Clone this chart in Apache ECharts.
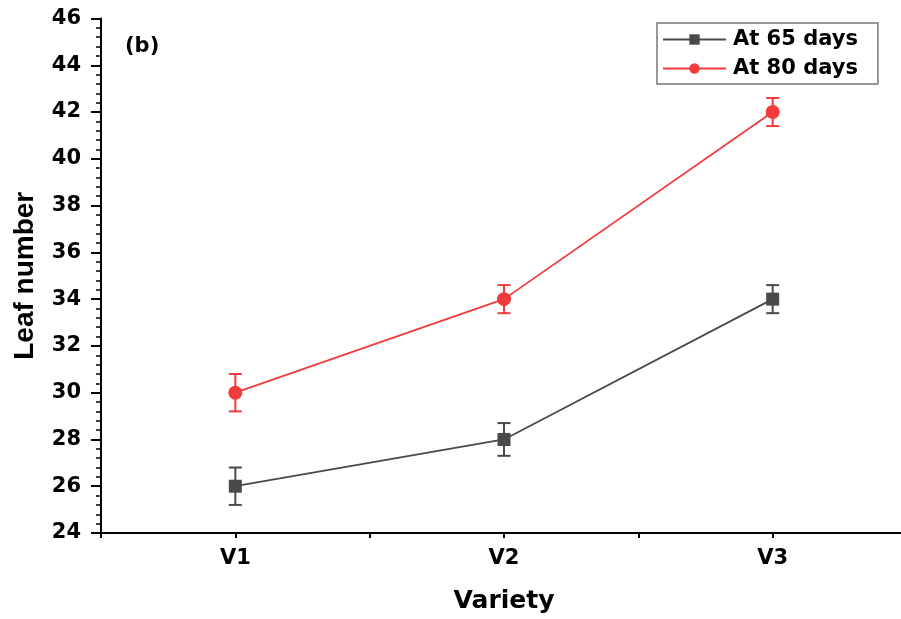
<!DOCTYPE html>
<html>
<head>
<meta charset="utf-8">
<script src="https://cdn.jsdelivr.net/npm/echarts@6/dist/echarts.min.js"></script>
<style>
html,body{margin:0;padding:0;background:#fff;}
#chart{width:901px;height:619px;}
</style>
</head>
<body>
<div id="chart"></div>
<script>
const categories = ['V1', 'V2', 'V3'];
const seriesNames = ['At 65 days', 'At 80 days'];
const values65 = [26, 28, 34];
const errors65 = [0.8, 0.7, 0.6];
const values80 = [30, 34, 42];
const errors80 = [0.8, 0.6, 0.6];
const yTicks = { min: 24, max: 46, step: 2 };

const FONT = 'DejaVu Sans';
const BLACK_C = '#4a4a4a';
const RED_C = '#f23b3d';

function pts(vals) { return vals.map((v, i) => [i + 1, v]); }
function errData(vals, errs) { return vals.map((v, i) => [i + 1, v - errs[i], v + errs[i]]); }

function errRender(color) {
  return function (params, api) {
    const x = api.value(0);
    const lo = api.coord([x, api.value(1)]);
    const hi = api.coord([x, api.value(2)]);
    const hw = 6.5;
    const style = { stroke: color, lineWidth: 2, fill: null };
    return {
      type: 'group',
      children: [
        { type: 'line', shape: { x1: lo[0], y1: lo[1], x2: hi[0], y2: hi[1] }, style: style },
        { type: 'line', shape: { x1: lo[0] - hw, y1: lo[1], x2: lo[0] + hw, y2: lo[1] }, style: style },
        { type: 'line', shape: { x1: hi[0] - hw, y1: hi[1], x2: hi[0] + hw, y2: hi[1] }, style: style }
      ]
    };
  };
}

const chart = echarts.init(document.getElementById('chart'));
chart.setOption({
  animation: false,
  backgroundColor: '#fff',
  grid: { left: 101, right: -6, top: 18.5, bottom: 86, containLabel: false, outerBoundsMode: 'none' },
  xAxis: {
    type: 'value',
    min: 0.5, max: 3.5, interval: 0.5,
    splitLine: { show: false },
    axisLine: { show: true, onZero: false, lineStyle: { color: '#000', width: 2 } },
    axisTick: { show: true, length: 5, lineStyle: { color: '#000', width: 2 } },
    axisLabel: {
      show: true, margin: 15, color: '#000', fontFamily: FONT, fontWeight: 'bold', fontSize: 21,
      showMinLabel: true, showMaxLabel: true,
      formatter: function (v) { return Number.isInteger(v) ? (categories[v - 1] || '') : ''; }
    },
    name: 'Variety',
    nameLocation: 'middle',
    nameGap: 56,
    nameTextStyle: { color: '#000', fontFamily: FONT, fontWeight: 'bold', fontSize: 25 }
  },
  yAxis: {
    type: 'value',
    min: yTicks.min, max: yTicks.max, interval: yTicks.step,
    splitLine: { show: false },
    axisLine: { show: true, lineStyle: { color: '#000', width: 2 } },
    axisTick: { show: true, length: 10, lineStyle: { color: '#000', width: 2 } },
    minorTick: { show: true, splitNumber: 5, length: 5, lineStyle: { color: '#000', width: 1.5 } },
    axisLabel: { margin: 20, color: '#000', fontFamily: FONT, fontWeight: 'bold', fontSize: 21 },
    name: 'Leaf number',
    nameLocation: 'middle',
    nameGap: 62,
    nameTextStyle: { color: '#000', fontFamily: 'Liberation Sans', fontWeight: 'bold', fontSize: 28 }
  },
  legend: {
    data: seriesNames,
    orient: 'vertical',
    left: 657, top: 23,
    padding: [6, 20, 5, 5],
    itemGap: 8,
    itemWidth: 63,
    itemHeight: 13,
    borderColor: '#777',
    borderWidth: 1.5,
    borderRadius: 0,
    textStyle: { color: '#000', fontFamily: FONT, fontWeight: 'bold', fontSize: 21, padding: [0, 0, 0, 2] }
  },
  graphic: [
    { type: 'text', left: 125, top: 36, style: { text: '(b)', fill: '#000', font: 'bold 21px "DejaVu Sans"' } }
  ],
  series: [
    {
      name: 'err65', type: 'custom', z: 1,
      renderItem: errRender(BLACK_C),
      encode: { x: 0, y: [1, 2] },
      data: errData(values65, errors65)
    },
    {
      name: 'err80', type: 'custom', z: 1,
      renderItem: errRender(RED_C),
      encode: { x: 0, y: [1, 2] },
      data: errData(values80, errors80)
    },
    {
      name: seriesNames[0], type: 'line', z: 3,
      data: pts(values65),
      symbol: 'rect', symbolSize: 13,
      itemStyle: { color: BLACK_C },
      lineStyle: { color: BLACK_C, width: 1.8 }
    },
    {
      name: seriesNames[1], type: 'line', z: 3,
      data: pts(values80),
      symbol: 'circle', symbolSize: 14,
      itemStyle: { color: RED_C },
      lineStyle: { color: RED_C, width: 1.8 }
    }
  ]
});
</script>
</body>
</html>
